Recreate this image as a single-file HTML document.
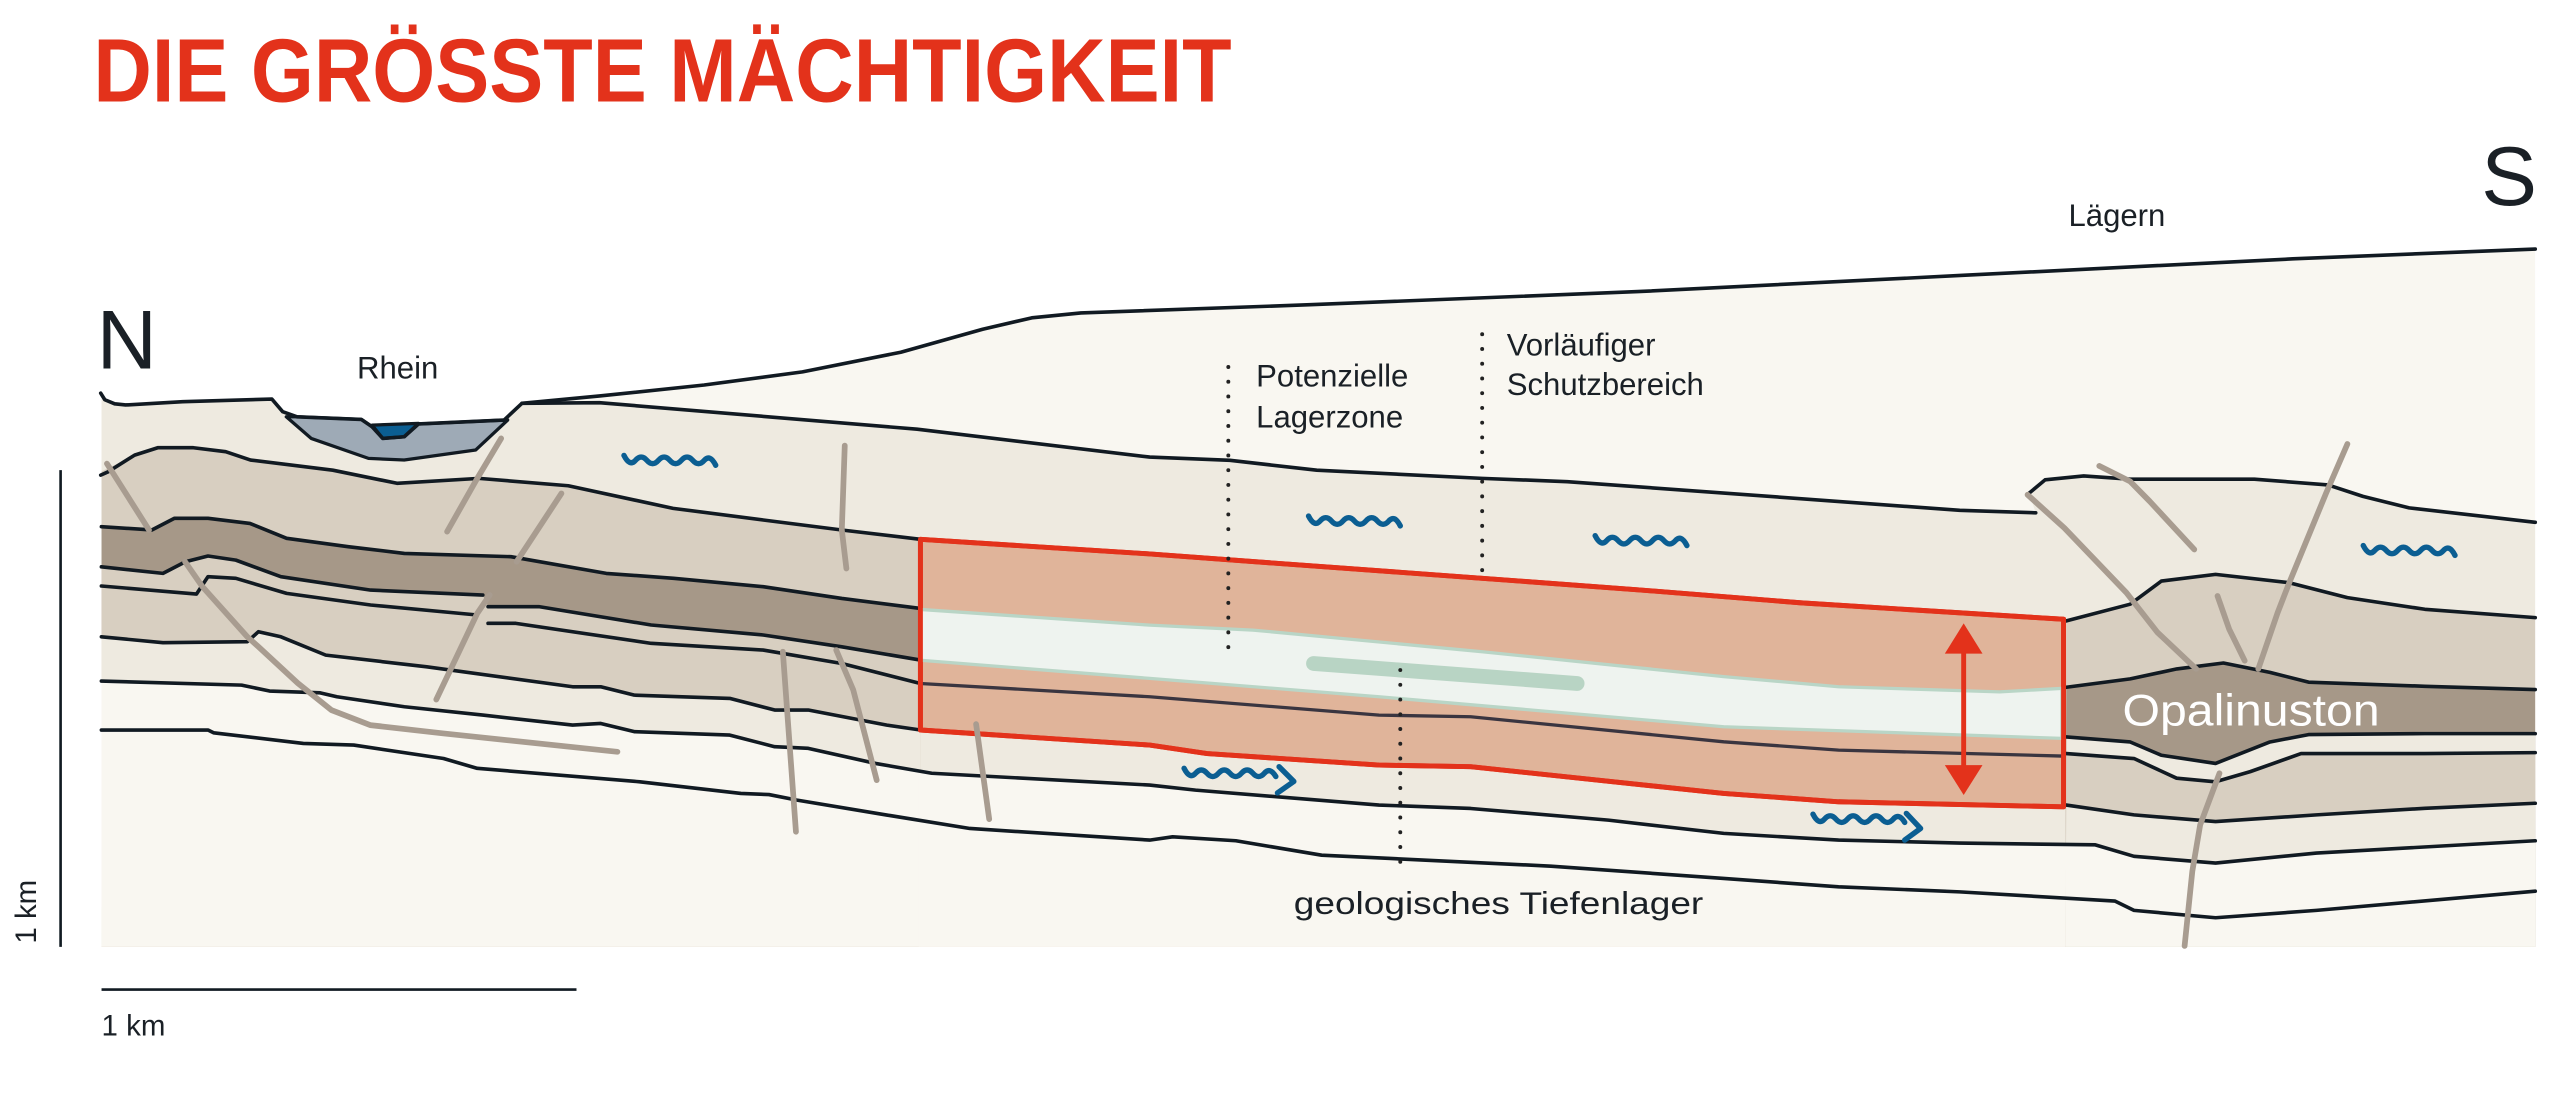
<!DOCTYPE html>
<html><head><meta charset="utf-8"><style>
html,body{margin:0;padding:0;background:#fff;}
svg{display:block;}
text{font-family:"Liberation Sans",sans-serif;fill:#1a2026;}
</style></head><body>
<svg width="2568" height="1096" viewBox="0 0 1568 669" preserveAspectRatio="none" xmlns="http://www.w3.org/2000/svg">
<defs>
<clipPath id="cl"><rect x="62" y="100" width="500" height="478"/></clipPath>
<clipPath id="cm"><rect x="561" y="100" width="701" height="478"/></clipPath>
<clipPath id="cr"><rect x="1261" y="100" width="287" height="478"/></clipPath>
<clipPath id="call"><rect x="62" y="100" width="1486" height="478"/></clipPath>
</defs>
<rect width="1568" height="669" fill="#fff"/>

<g clip-path="url(#call)">
<polygon fill="#f9f7f1" points="61.5,243.2 76.7,247.2 111.6,245.2 166,243.6 172.6,251.3 181.4,254.4 220.6,256 227.2,260.5 233.7,267.6 246.8,266.6 255.5,258.8 307.8,256.4 318.7,246.2 366.2,241.7 430,235 490,227 550,215 600,201 630,194 660,191 800,186 1000,178 1200,168 1400,158 1548,152 1548,578 62,578"/>
<polygon fill="#eeeae0" points="61.5,243.2 76.7,247.2 111.6,245.2 166,243.6 172.6,251.3 181.4,254.4 220.6,256 227.2,260.5 233.7,267.6 246.8,266.6 255.5,258.8 307.8,256.4 318.7,246.2 366,245.8 560,262 702,279 751,281 804,287 905,292 957,294 1196.6,311.5 1243,313 1239,301 1248.7,292.9 1272.3,290.5 1300.7,292.5 1376.5,292.5 1421.5,296 1442.8,303 1471,310 1548,318.8 1548,578 62,578"/>
</g>
<g clip-path="url(#cl)">
<polygon fill="#d8cfc1" points="61.5,288 82.2,277.8 96.3,273.3 118.1,273.3 137.8,275.7 153,280.8 203.2,287 242.4,295 292.5,292 347,296.5 411,310.3 466,317.4 514,323.5 562,329.2 562,578 62,578"/>
<polygon fill="#a69888" points="61.9,321.5 92.7,323.5 106.4,316.4 127,316.4 152.6,319.5 175,328.6 212.6,333.7 246.9,337.8 312,339.8 370.2,350 411.3,353 466,358.1 514,365.3 562,371.4 562,578 62,578"/>
<polygon fill="#d8cfc1" points="61.9,346 99.5,350 113.2,342.9 127,339.4 144,341.9 171.5,352 226.3,360.2 294.8,363.2 298,370.3 329,370.3 397.6,381.5 466,387.6 514,394.8 562,402.9 562,578 62,578"/>
<polygon fill="#eeeae0" points="61.9,388.7 99.5,392.3 151,391.7 157.8,385.6 171.5,388.7 198.9,399.9 260.6,407 349.6,419.2 366.8,419.2 387.3,424.3 445.6,426.3 473,433.4 493.5,433.4 541.5,442.6 562,445.6 562,578 62,578"/>
<polygon fill="#f9f7f1" points="61.9,415.7 147.5,418.2 164.6,421.8 195.5,422.9 205.7,425.3 246.9,431.4 294.8,436.5 349.6,442.6 366.8,441.6 387.3,446.6 445.6,448.7 473,455.8 493.5,456.8 534.6,466 568.9,472 568.9,578 62,578"/>
</g>
<g clip-path="url(#cm)">
<polygon fill="#eeeae0" points="562,445.6 702,454.8 737,460 842,467 898,468 1052.5,484.3 1122.6,489.4 1262,492.5 1262,578 562,578"/>
<polygon fill="#f9f7f1" points="534.6,466 568.9,472 702,479.2 730,482.3 842,491.4 898,493.5 982,500.6 1052.5,508.7 1122.6,512.8 1196.6,514.6 1262,516 1262,578 534.6,578"/>
</g>
<g clip-path="url(#cr)">
<polygon fill="#d8cfc1" points="1261.7,379 1300.7,368.8 1319.7,354.7 1352.8,350.6 1397.8,355.7 1433.3,364.8 1480.6,371.9 1548,377 1548,578 1261,578"/>
<polygon fill="#a69888" points="1261.7,419.5 1300.7,414.4 1329.2,408.3 1357.6,404.7 1386,410.4 1409.6,416.4 1480.6,418.9 1548,420.9 1548,578 1261,578"/>
<polygon fill="#eeeae0" points="1261.7,449.8 1300.7,452.9 1319.7,461 1352.8,466 1386,452.9 1409.6,448.4 1480.6,447.8 1548,447.8 1548,578 1261,578"/>
<polygon fill="#d8cfc1" points="1261.7,460 1303,463 1329,475 1352.8,477.2 1374,471 1405,460 1480.6,460 1548,459.4 1548,578 1261,578"/>
<polygon fill="#eeeae0" points="1261.7,491.4 1303,497.4 1352.8,501.5 1414.4,497.4 1480.6,493.4 1548,490.3 1548,578 1261,578"/>
<polygon fill="#f9f7f1" points="1196.6,514.6 1279.4,515.7 1303,522.7 1352.8,526.8 1414.4,520.7 1548,513.2 1548,578 1196,578"/>
</g>

<polygon fill="#9eaab6" stroke="#111a22" stroke-width="2" stroke-linejoin="round" points="174.8,254.4 181.4,254.4 220.6,256 227.2,260.5 233.7,267.6 246.8,266.6 255.5,258.8 307.8,256.4 310,256.4 290.4,274.7 246.8,280.8 225,279.8 190,267.6"/>
<path d="M227.2,259.5 L255.5,258.4 L246.8,266.6 L233.7,267.6 Z" fill="#0b5e92" stroke="#111a22" stroke-width="2" stroke-linejoin="round"/>

<polygon fill="#e0b49a" stroke="#e3321b" stroke-width="3" stroke-linejoin="round" points="562,329.2 700,338 905,353 1000,360 1100,368 1260,378 1260,492.5 1122.6,489.4 1052.5,484.3 898,468 842,467 737,460 702,454.8 562,445.6"/>
<polygon fill="#eef3ef" stroke="#b9d5c6" stroke-width="2" points="562,372 702,381.6 765,384.6 905,397.8 1052.5,413 1122.6,419.2 1221,422.3 1259,420.2 1259,450.7 1052.5,443.6 842,425.3 702,414.1 562,403"/>
<line x1="802" y1="405" x2="963" y2="417.2" stroke="#b8d4c4" stroke-width="9" stroke-linecap="round"/>
<polyline fill="none" stroke="#3a3540" stroke-width="2" points="562,417.2 702,425.3 842,436.5 898,437.5 1052.5,452.8 1122.6,457.9 1259,461.5"/>

<g fill="none" stroke="#111a22" stroke-width="2.2" stroke-linejoin="round" stroke-linecap="round">
<polyline points="61.5,240 64,244 70,246.5 76.7,247.2 111.6,245.2 166,243.6 172.6,251.3 181.4,254.4 220.6,256 227.2,260.5 233.7,267.6 246.8,266.6 255.5,258.8 307.8,256.4 318.7,246.2 366.2,241.7 430,235 490,227 550,215 600,201 630,194 660,191 800,186 1000,178 1200,168 1400,158 1548,152"/>
<polyline points="318.7,246.2 366,245.8 560,262 702,279 751,281 804,287 905,292 957,294 1196.6,311.5 1243,313"/>
<polyline points="1239,301 1248.7,292.9 1272.3,290.5 1300.7,292.5 1376.5,292.5 1421.5,296 1442.8,303 1471,310 1548,318.8"/>
<polyline points="61.5,290 66,288 82.2,277.8 96.3,273.3 118.1,273.3 137.8,275.7 153,280.8 203.2,287 242.4,295 292.5,292 347,296.5 411,310.3 466,317.4 514,323.5 562,329.2"/>
<polyline points="61.9,321.5 92.7,323.5 106.4,316.4 127,316.4 152.6,319.5 175,328.6 212.6,333.7 246.9,337.8 312,339.8 370.2,350 411.3,353 466,358.1 514,365.3 562,371.4"/>
<polyline points="61.9,346 99.5,350 113.2,342.9 127,339.4 144,341.9 171.5,352 226.3,360.2 294.8,363.2"/>
<polyline points="298,370.3 329,370.3 397.6,381.5 466,387.6 514,394.8 562,402.9"/>
<polyline points="61.9,357.7 120,362.6 127,352 144,353 175,362.2 226.3,369.3 291.4,375.4"/>
<polyline points="298,380.5 315,380.5 397.6,392.7 466,396.8 514,405 562,417.2"/>
<polyline points="61.9,388.7 99.5,392.3 151,391.7 157.8,385.6 171.5,388.7 198.9,399.9 260.6,407 349.6,419.2 366.8,419.2 387.3,424.3 445.6,426.3 473,433.4 493.5,433.4 541.5,442.6 562,445.6"/>
<polyline points="61.9,415.7 147.5,418.2 164.6,421.8 195.5,422.9 205.7,425.3 246.9,431.4 294.8,436.5 349.6,442.6 366.8,441.6 387.3,446.6 445.6,448.7 473,455.8 493.5,456.8 534.6,466 568.9,472 702,479.2 730,482.3 842,491.4 898,493.5 982,500.6 1052.5,508.7 1122.6,512.8 1196.6,514.6 1279.4,515.7 1303,522.7 1352.8,526.8 1414.4,520.7 1548,513.2"/>
<polyline points="61.9,445.6 127,445.6 130.4,447.3 185.2,453.8 216,454.8 270.8,463 291.4,469 390.7,477.2 452.4,484.3 469.5,485 486.7,488.4 541.5,497.5 592.2,505.7 702,512.8 716,510.8 754.6,513.2 807,522 849,524 947,528.7 1052.5,536.2 1122.6,541.3 1196.6,544.4 1291.3,550 1303,555.7 1352.8,560.2 1414.4,555.7 1548,544"/>
<polyline points="1261.7,379 1300.7,368.8 1319.7,354.7 1352.8,350.6 1397.8,355.7 1433.3,364.8 1480.6,371.9 1548,377"/>
<polyline points="1261.7,419.5 1300.7,414.4 1329.2,408.3 1357.6,404.7 1386,410.4 1409.6,416.4 1480.6,418.9 1548,420.9"/>
<polyline points="1261.7,449.8 1300.7,452.9 1319.7,461 1352.8,466 1386,452.9 1409.6,448.4 1480.6,447.8 1548,447.8"/>
<polyline points="1261.7,460 1303,463 1329,475 1352.8,477.2 1374,471 1405,460 1480.6,460 1548,459.4"/>
<polyline points="1261.7,491.4 1303,497.4 1352.8,501.5 1414.4,497.4 1480.6,493.4 1548,490.3"/>
</g>
<polygon fill="none" stroke="#e3321b" stroke-width="3" stroke-linejoin="round" points="562,329.2 700,338 905,353 1000,360 1100,368 1260,378 1260,492.5 1122.6,489.4 1052.5,484.3 898,468 842,467 737,460 702,454.8 562,445.6"/>

<g fill="none" stroke="#a89c90" stroke-width="3.5" stroke-linecap="round" stroke-linejoin="round">
<polyline points="65.3,283 91,323.5"/>
<polyline points="113,342.9 123.5,358 151,388.7 157.8,394.8 181.8,417 202.3,433.4 226,442.6 270.8,447.7 377,458.9"/>
<polyline points="306,267.6 291.4,292 273,324.5"/>
<polyline points="342.8,301.2 315.4,342.9"/>
<polyline points="299,363.2 291.4,374.4 266.4,427"/>
<polyline points="515.8,272 514,323.5 516.8,347"/>
<polyline points="478,397.8 486,507.7"/>
<polyline points="510.6,396.8 521,421.2 535.3,476.2"/>
<polyline points="596,442 604,500"/>
<polyline points="1238,302 1260.5,322.3 1298.4,361.8 1317.3,386 1341,408.3"/>
<polyline points="1281.8,284.4 1300.7,293.9 1312.6,306 1339.8,335.4"/>
<polyline points="1433.3,271 1420.3,301 1397.8,355.7 1390.7,374 1378.9,408.3"/>
<polyline points="1354,363.8 1361.1,384 1370.6,403.3"/>
<polyline points="1355.2,472 1343.4,503.5 1338.6,531.9 1333.9,577.4"/>
</g>

<g stroke="#222" stroke-width="2.4" stroke-linecap="round" stroke-dasharray="0 9">
<line x1="750" y1="224" x2="750" y2="404"/>
<line x1="905" y1="204" x2="905" y2="350"/>
<line x1="855" y1="409" x2="855" y2="535"/>
</g>

<g fill="none" stroke="#0b5e92" stroke-width="3.3" stroke-linecap="round" stroke-linejoin="round">
<path d="M381 278 q3.5 7 7 3 t7 0 t7 0 t7 0 t7 0 t7 0 t7 0 t7 3"/>
<path d="M799 315 q3.5 7 7 3 t7 0 t7 0 t7 0 t7 0 t7 0 t7 0 t7 3"/>
<path d="M974 327 q3.5 7 7 3 t7 0 t7 0 t7 0 t7 0 t7 0 t7 0 t7 3"/>
<path d="M1443 333 q3.5 7 7 3 t7 0 t7 0 t7 0 t7 0 t7 0 t7 0 t7 3"/>
<path d="M723 469 q3.5 7 7 3 t7 0 t7 0 t7 0 t7 0 t7 0 t7 0 t7 2"/>
<path d="M781 468 L790 477 L780 484"/>
<path d="M1107 497 q3.5 7 7 3 t7 0 t7 0 t7 0 t7 0 t7 0 t7 0 t7 2"/>
<path d="M1164 496.5 L1172.7 505.7 L1163 512.8"/>
</g>

<line x1="1199" y1="395" x2="1199" y2="470" stroke="#e3321b" stroke-width="3"/>
<polygon fill="#e3321b" points="1199,380.5 1210.5,399 1187.5,399"/>
<polygon fill="#e3321b" points="1199,485.3 1210.5,467 1187.5,467"/>

<line x1="37" y1="287" x2="37" y2="578" stroke="#111a22" stroke-width="1.6"/>
<text transform="translate(22,576) rotate(-90)" font-size="18">1 km</text>
<line x1="62" y1="604" x2="352" y2="604" stroke="#111a22" stroke-width="1.6"/>
<text x="62" y="632" font-size="18">1 km</text>

<text x="57" y="62" font-size="55" font-weight="bold" style="fill:#e3321b" textLength="695" lengthAdjust="spacingAndGlyphs">DIE GRÖSSTE MÄCHTIGKEIT</text>
<text x="59" y="225" font-size="51">N</text>
<text x="1515" y="125" font-size="51">S</text>
<text x="1263" y="138" font-size="19">Lägern</text>
<text x="218" y="231" font-size="19">Rhein</text>
<text x="767" y="236" font-size="19">Potenzielle</text>
<text x="767" y="261" font-size="19">Lagerzone</text>
<text x="920" y="217" font-size="19">Vorläufiger</text>
<text x="920" y="241" font-size="19">Schutzbereich</text>
<text x="790" y="558" font-size="19" textLength="250" lengthAdjust="spacingAndGlyphs">geologisches Tiefenlager</text>
<text x="1296" y="443" font-size="27" style="fill:#fff" textLength="157" lengthAdjust="spacingAndGlyphs">Opalinuston</text>
</svg>
</body></html>
